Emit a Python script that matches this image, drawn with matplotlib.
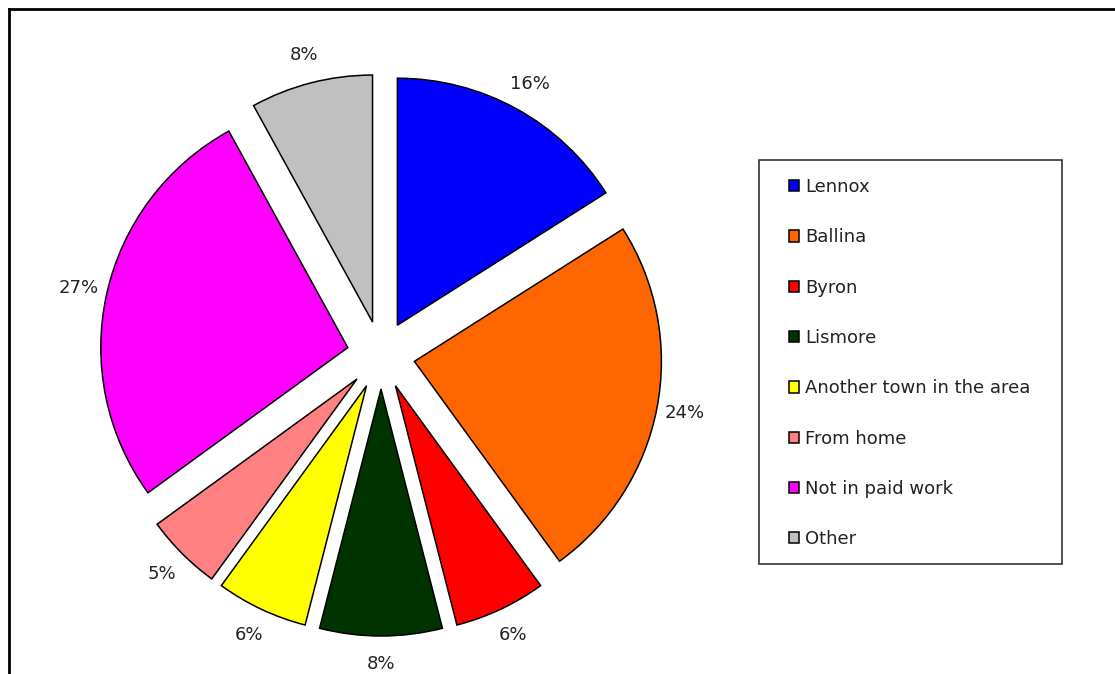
import matplotlib
matplotlib.use("Agg")
import matplotlib.pyplot as plt
from matplotlib.patches import Rectangle
from matplotlib.lines import Line2D

categories = ["Lennox", "Ballina", "Byron", "Lismore", "Another town in the area",
              "From home", "Not in paid work", "Other"]
values = [16, 24, 6, 8, 6, 5, 27, 8]
colors = ["#0000FF", "#FF6600", "#FF0000", "#003300", "#FFFF00",
          "#FF8080", "#FF00FF", "#C0C0C0"]

W, H = 1115, 674
FS = 13
fig = plt.figure(figsize=(W / 100, H / 100), dpi=100)
ax = fig.add_axes([0, 0, 1, 1])
ax.axis("off")

radius = 247
center = (381, H - 355)
explode = [34] * len(values)

wedges, texts, autotexts = ax.pie(
    values, explode=explode, colors=colors, startangle=90, counterclock=False,
    radius=radius, center=center, autopct="%d%%", pctdistance=1.115,
    wedgeprops=dict(edgecolor="black", linewidth=1.1),
    textprops=dict(fontsize=FS, color="#222222"), frame=False)
ax.set_xlim(0, W)
ax.set_ylim(0, H)
ax.set_aspect("equal")

# figure frame (top and left visible)
ax.add_line(Line2D([9, 9], [0, H - 9], color="black", lw=2))
ax.add_line(Line2D([9, W], [H - 9, H - 9], color="black", lw=2))

# legend box
ax.add_patch(Rectangle((759, H - 564), 303, 404, facecolor="white",
                       edgecolor="#333333", lw=1.2))
leg = ax.legend(wedges, categories, loc="upper left",
                bbox_to_anchor=(789 / W, (H - 178) / H), bbox_transform=fig.transFigure,
                frameon=False, fontsize=FS, handlelength=0.58, handleheight=0.58,
                handletextpad=0.3, labelspacing=1.79, borderpad=0, borderaxespad=0)
for t in leg.get_texts():
    t.set_color("#222222")

fig.savefig("out.png", dpi=100)
